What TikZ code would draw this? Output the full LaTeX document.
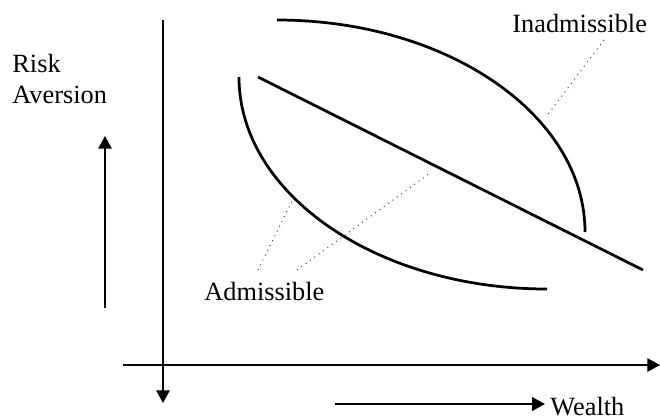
\documentclass[tikz,border=0pt]{standalone}
\usepackage{fontspec}
\setmainfont{Liberation Serif}
\usetikzlibrary{arrows.meta,positioning}

\begin{document}
\begin{tikzpicture}[x=0.456pt, y=-0.456pt, >={Triangle[length=5.8pt,width=6.1pt]},
  curve/.style={line width=1.25pt},
  axis/.style={line width=0.85pt},
  leader/.style={line width=0.45pt, dotted, black!75},
  lbl/.style={inner sep=0pt, font=\fontsize{12}{14}\selectfont}]
  \useasboundingbox (0,0) rectangle (660,419);
  % axes
  \coordinate (ytop) at (163,20);
  \coordinate (ybot) at (163,403);
  \coordinate (xleft) at (123,365);
  \coordinate (xright) at (660,365);
  \draw[axis, ->] (ytop) -- (ybot);
  \draw[axis, ->] (xleft) -- (xright);
  % direction arrows
  \coordinate (riskfoot) at (105,308);
  \coordinate (risktip) at (105,136);
  \draw[axis, ->] (riskfoot) -- (risktip);
  \node[lbl, align=left, anchor=north west] (risk) at (12,54) {Risk\\Aversion};
  \node[lbl, anchor=base west] (wealth) at (550,415.5) {Wealth};
  \coordinate (wealthfoot) at (335,404);
  \draw[axis, ->, shorten >=2.3pt] (wealthfoot) -- (wealthfoot -| wealth.west);
  % frontier curves
  \draw[curve] (277,20) .. controls (447,20) and (585,115) .. (585,232);
  \draw[curve] (239,77) .. controls (239,194) and (377,289) .. (547,289);
  \draw[curve] (258,77) -- (643,270);
  % labels
  \node[lbl, anchor=base west] (inad) at (512,32) {Inadmissible};
  \node[lbl, anchor=base west] (adm) at (204,300) {Admissible};
  \coordinate (inadfoot) at (604,40);
  \coordinate (inadend) at (546,117);
  \coordinate (admfootl) at (258,270);
  \coordinate (admendl) at (296,193);
  \coordinate (admfootr) at (297,270);
  \coordinate (admendr) at (430,173);
  \draw[leader] (inadfoot) -- (inadend);
  \draw[leader] (admfootl) -- (admendl);
  \draw[leader] (admfootr) -- (admendr);
\end{tikzpicture}
\end{document}
